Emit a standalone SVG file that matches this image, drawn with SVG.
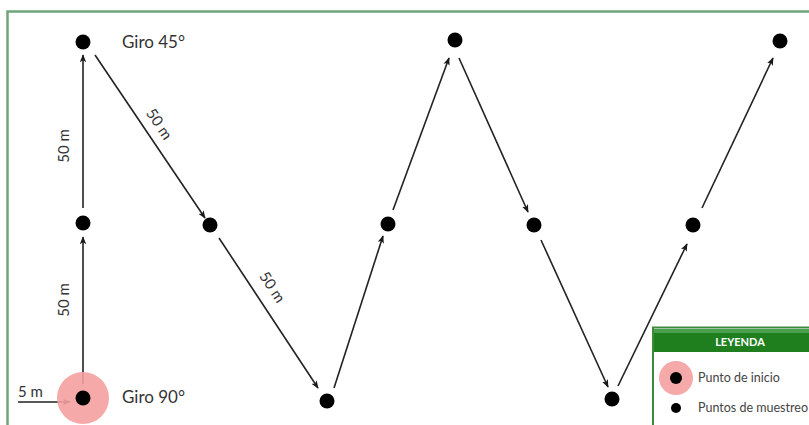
<svg xmlns="http://www.w3.org/2000/svg" width="809" height="425" viewBox="0 0 809 425">
<defs>
<marker id="ah" viewBox="0 0 10 10" refX="9" refY="5" markerWidth="8" markerHeight="8" markerUnits="userSpaceOnUse" orient="auto">
<path d="M0,1 L10,5 L0,9 L2.5,5 Z" fill="#1a1a1a"/>
</marker>
</defs>
<style>
.dot{fill:#000}
.halo{fill:#f4a0a0;opacity:0.9}
.ln{stroke:#222;stroke-width:1.6;fill:none;marker-end:url(#ah)}
.t{font-family:Lato,"Open Sans",sans-serif;fill:#333}
.lbl{font-size:17px}
.m{font-size:15px}
.lg{font-family:Lato,"Open Sans",sans-serif;font-size:12.5px;fill:#444}
</style>
<rect x="0" y="0" width="809" height="425" fill="#ffffff"/>
<path d="M7.5,425 V11.5 H809" fill="none" stroke="#6fa57a" stroke-width="2.5"/>
<g id="connectors">
<line class="ln" x1="83" y1="384" x2="83" y2="237"/>
<line class="ln" x1="83" y1="208" x2="83" y2="55"/>
<line class="ln" x1="95" y1="55" x2="205" y2="218"/>
<line class="ln" x1="219" y1="238" x2="318" y2="388"/>
<line class="ln" x1="334" y1="388" x2="383" y2="236"/>
<line class="ln" x1="393" y1="210" x2="449" y2="58"/>
<line class="ln" x1="459" y1="58" x2="528" y2="212"/>
<line class="ln" x1="541" y1="240" x2="608" y2="387"/>
<line class="ln" x1="618" y1="386" x2="687" y2="244"/>
<line class="ln" x1="702" y1="208" x2="773" y2="58"/>
<line class="ln" x1="18" y1="402" x2="70" y2="402"/>
<text class="t m" x="18" y="397">5 m</text>
<text class="t m" transform="translate(69,146) rotate(-90)" text-anchor="middle">50 m</text>
<text class="t m" transform="translate(69,300) rotate(-90)" text-anchor="middle">50 m</text>
<text class="t m" transform="translate(155,127) rotate(56)" text-anchor="middle">50 m</text>
<text class="t m" transform="translate(268,290) rotate(56.5)" text-anchor="middle">50 m</text>
</g>
<g id="A"><circle class="halo" cx="83" cy="398" r="26"/><circle class="dot" cx="83" cy="398" r="7.5"/><text class="t lbl" x="122" y="403">Giro 90°</text></g>
<g id="B"><circle class="dot" cx="83" cy="223" r="7.5"/></g>
<g id="C"><circle class="dot" cx="83" cy="42" r="7.5"/><text class="t lbl" x="122" y="48">Giro 45°</text></g>
<g id="D"><circle class="dot" cx="210" cy="225" r="7.5"/></g>
<g id="E"><circle class="dot" cx="327" cy="401" r="7.5"/></g>
<g id="F"><circle class="dot" cx="388" cy="224" r="7.5"/></g>
<g id="G"><circle class="dot" cx="455" cy="40" r="7.5"/></g>
<g id="H"><circle class="dot" cx="534" cy="225" r="7.5"/></g>
<g id="I"><circle class="dot" cx="612" cy="399" r="7.5"/></g>
<g id="J"><circle class="dot" cx="693" cy="225" r="7.5"/></g>
<g id="K"><circle class="dot" cx="780" cy="41" r="7.5"/></g>
<g id="legend">
<rect x="653" y="327.5" width="160" height="100" fill="#fff" stroke="#3d8a3d" stroke-width="2"/>
<rect x="654" y="329" width="160" height="23" fill="#1f7f1f"/>
<rect x="654" y="329" width="160" height="4" fill="#4aa04a"/>
<text x="740" y="346" text-anchor="middle" font-family="Lato,'Open Sans',sans-serif" font-size="11" font-weight="bold" fill="#ffffff">LEYENDA</text>
<circle class="halo" cx="676" cy="378" r="17"/>
<circle class="dot" cx="676" cy="378" r="6"/>
<text class="lg" x="698" y="382">Punto de inicio</text>
<circle class="dot" cx="676" cy="408" r="5"/>
<text class="lg" x="698" y="412">Puntos de muestreo</text>
</g>
</svg>
